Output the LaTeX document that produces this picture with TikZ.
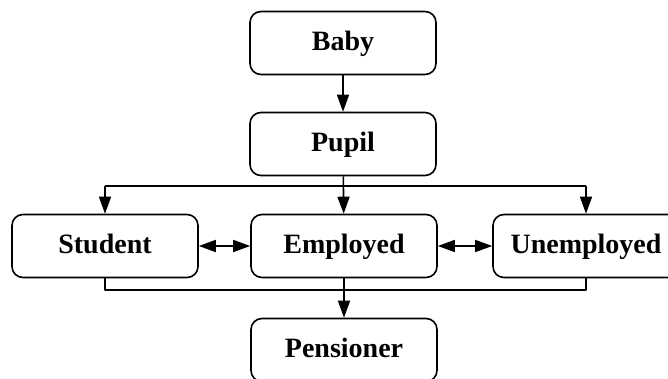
\documentclass[tikz,border=0pt]{standalone}
\usepackage{fontspec}
\setmainfont{Liberation Serif}
\usetikzlibrary{arrows.meta}

\begin{document}
\begin{tikzpicture}[x=1pt, y=-1pt, >={Triangle[length=17pt, width=12pt]}, line join=round,
    every path/.style={line width=1.6pt},
    stage/.style={draw, rounded corners=11pt, minimum width=186pt, minimum height=63pt,
        inner sep=0pt, text height=19pt, text depth=5pt,
        font=\fontsize{28}{30}\selectfont\bfseries}]
    \useasboundingbox (0,0) rectangle (668,378);

    % 各阶段方框
    \node[stage] (baby) at (343,43) {Baby};
    \node[stage] (pupil) at (343,144) {Pupil};
    \node[stage] (student) at (105,246) {Student};
    \node[stage] (employed) at (344,246) {Employed};
    \node[stage] (unemployed) at (586,246) {Unemployed};
    \node[stage] (pensioner) at (344,350) {Pensioner};

    % 分支线与汇合线的高度
    \coordinate (split) at (344,186);
    \coordinate (merge) at (344,290);

    % 上部: Baby -> Pupil -> 三个去向
    \draw[->] (baby) -- (pupil);
    \draw[->] (pupil) -- (employed);
    \draw (split -| student) -- (split -| unemployed);
    \draw[->] (split -| student) -- (student);
    \draw[->] (split -| unemployed) -- (unemployed);

    % 中间: 相互转换
    \draw[<->] (student) -- (employed);
    \draw[<->] (employed) -- (unemployed);

    % 下部: 汇合到 Pensioner
    \draw (student.south) |- (merge -| unemployed) -- (unemployed.south);
    \draw[->] (employed) -- (pensioner);
\end{tikzpicture}
\end{document}
